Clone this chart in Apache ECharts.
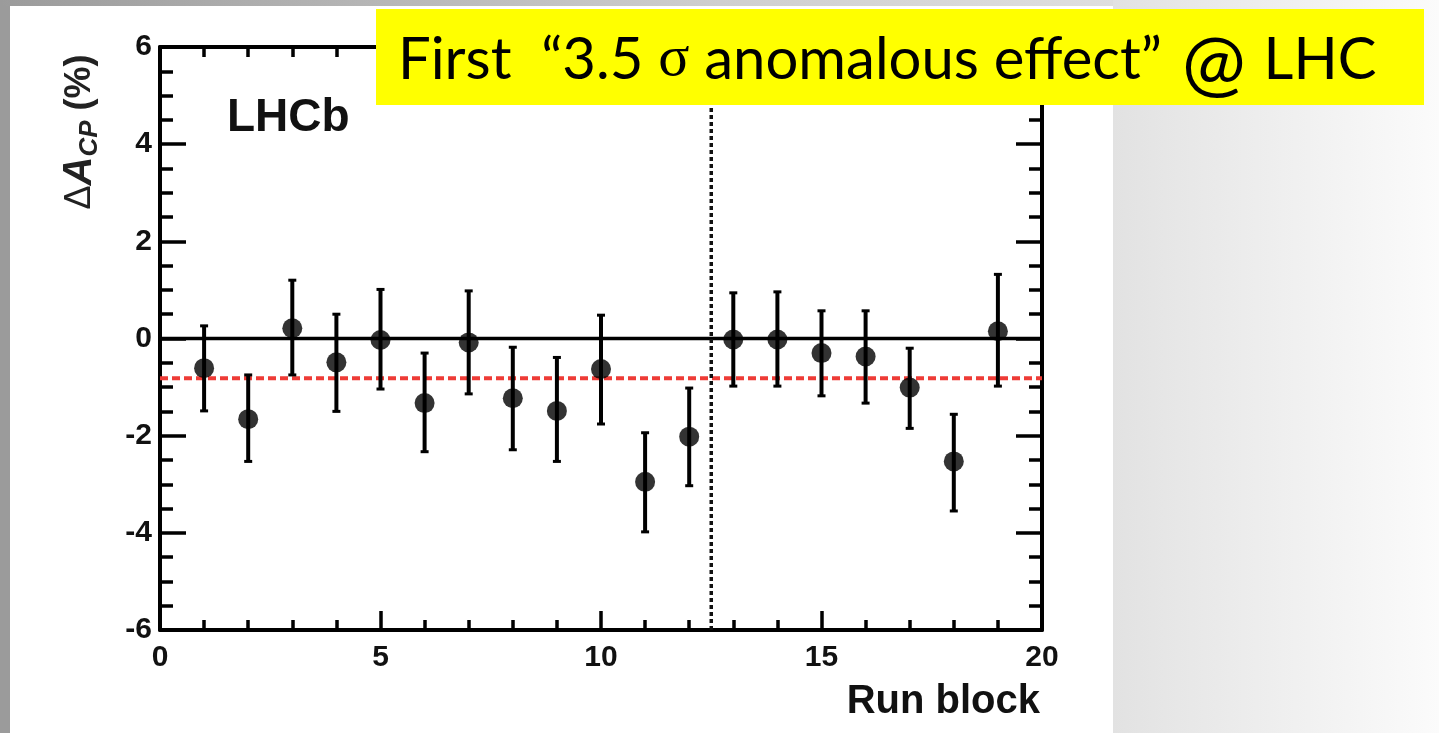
<!DOCTYPE html>
<html>
<head>
<meta charset="utf-8">
<script src="https://cdn.jsdelivr.net/npm/echarts@6/dist/echarts.min.js"></script>
<style>
html,body{margin:0;padding:0;background:#ffffff;}
#chart{width:1439px;height:733px;}
</style>
</head>
<body>
<div id="chart"></div>
<script>
// ---- data ----
const runBlock = [1,2,3,4,5,6,7,8,9,10,11,12,13,14,15,16,17,18,19];
const deltaAcp = [-0.61,-1.66,0.21,-0.49,-0.03,-1.33,-0.08,-1.23,-1.49,-0.63,-2.95,-2.02,-0.02,-0.02,-0.30,-0.37,-1.01,-2.53,0.15];
const errHigh  = [0.26,-0.75,1.20,0.50,1.01,-0.30,0.98,-0.18,-0.39,0.48,-1.94,-1.02,0.94,0.96,0.57,0.57,-0.20,-1.56,1.32];
const errLow   = [-1.49,-2.53,-0.75,-1.50,-1.04,-2.33,-1.14,-2.29,-2.53,-1.76,-3.98,-3.03,-0.98,-0.98,-1.18,-1.33,-1.85,-3.55,-0.98];
const zeroLevel = 0;
const averageLevel = -0.82;
const splitBlock = 12.5;
const xTickLabels = [0,5,10,15,20];
const yTickLabels = [-6,-4,-2,0,2,4,6];

const chart = echarts.init(document.getElementById('chart'), null, {renderer:'canvas'});

const labelFont = {fontFamily:'Liberation Sans, Arial, sans-serif', fontWeight:'bold', fontSize:30, color:'#111'};
function axisBase(extra){
  return Object.assign({
    type:'value',
    axisLine:{show:true, onZero:false, lineStyle:{color:'#000', width:4}},
    splitLine:{show:false},
  }, extra);
}

const option = {
  backgroundColor:'#ffffff',
  animation:false,
  grid:{left:160, right:397, top:47, bottom:103, containLabel:false},
  xAxis:[
    axisBase({position:'bottom', min:xTickLabels[0], max:xTickLabels[xTickLabels.length-1], interval:5,
      axisTick:{show:true, inside:true, length:19, lineStyle:{color:'#000', width:3.5}},
      minorTick:{show:true, splitNumber:5, length:10, lineStyle:{color:'#000', width:3.5}},
      axisLabel:Object.assign({show:true, margin:13}, labelFont)}),
    axisBase({position:'top', min:xTickLabels[0], max:xTickLabels[xTickLabels.length-1], interval:5,
      axisTick:{show:true, inside:true, length:19, lineStyle:{color:'#000', width:3.5}},
      minorTick:{show:true, splitNumber:5, length:10, lineStyle:{color:'#000', width:3.5}},
      axisLabel:{show:false}})
  ],
  yAxis:[
    axisBase({position:'left', min:yTickLabels[0], max:yTickLabels[yTickLabels.length-1], interval:2,
      axisTick:{show:true, inside:true, length:26, lineStyle:{color:'#000', width:3.5}},
      minorTick:{show:true, splitNumber:4, length:13, lineStyle:{color:'#000', width:3.5}},
      axisLabel:Object.assign({show:true, margin:8}, labelFont)}),
    axisBase({position:'right', min:yTickLabels[0], max:yTickLabels[yTickLabels.length-1], interval:2,
      axisTick:{show:true, inside:true, length:26, lineStyle:{color:'#000', width:3.5}},
      minorTick:{show:true, splitNumber:4, length:13, lineStyle:{color:'#000', width:3.5}},
      axisLabel:{show:false}})
  ],
  graphic:[
    // slide background pieces
    {type:'rect', z:-100, shape:{x:0,y:0,width:1439,height:733}, style:{fill:'#ffffff'}},
    {type:'rect', z:-99, shape:{x:0,y:0,width:10,height:733}, style:{fill:'#9b9b9b'}},
    {type:'rect', z:-99, shape:{x:0,y:0,width:1439,height:6}, style:{fill:new echarts.graphic.LinearGradient(0,0,1,0,[{offset:0,color:'#9b9b9b'},{offset:0.5,color:'#cfcfcf'},{offset:1,color:'#ececec'}])}},
    {type:'rect', z:-99, shape:{x:1113,y:0,width:326,height:733}, style:{fill:new echarts.graphic.LinearGradient(0,0,1,0,[{offset:0,color:'#e2e2e2'},{offset:1,color:'#fbfbfb'}])}},
    // LHCb label
    {type:'text', z:50, style:{x:227, y:118, text:'LHCb', fill:'#111', font:'bold 46px "Liberation Sans", Arial, sans-serif', textAlign:'left', textVerticalAlign:'middle'}},
    // x axis title
    {type:'text', z:50, style:{x:1040, y:702, text:'Run block', fill:'#111', font:'bold 40px "Liberation Sans", Arial, sans-serif', textAlign:'right', textVerticalAlign:'middle'}},
    // y axis title (rotated)
    {type:'text', z:50, x:80, y:132, rotation:Math.PI/2,
      style:{text:'{d|Δ}{a|A}{s|CP}{b| (%)}', textAlign:'center', textVerticalAlign:'middle', fill:'#222',
        rich:{
          d:{font:'36px "Liberation Sans", Arial, sans-serif', fill:'#222'},
          a:{font:'italic bold 40px "Liberation Sans", Arial, sans-serif', fill:'#222'},
          s:{font:'italic bold 26px "Liberation Sans", Arial, sans-serif', fill:'#222', padding:[20,0,0,0]},
          b:{font:'bold 36px "Liberation Sans", Arial, sans-serif', fill:'#222'}
        }}},
    // yellow banner
    {type:'rect', z:90, shape:{x:376,y:9,width:1048,height:96}, style:{fill:'#ffff00'}},
    {type:'text', z:91, style:{x:398, y:60, text:'{t|First  “3.5 }{g|σ}{t| anomalous effect”}{at|@}{t|LHC}', textAlign:'left', textVerticalAlign:'middle',
      rich:{
        t:{font:'58px Lato, "Open Sans", sans-serif', fill:'#000'},
        g:{font:'58px "Liberation Serif", "DejaVu Serif", serif', fill:'#000'},
        at:{font:'76px Lato, "Open Sans", sans-serif', fill:'#000', padding:[8,18,0,20]}
      }}}
  ],
  series:[
    {type:'line', name:'zero', xAxisIndex:0, yAxisIndex:0, symbol:'none', silent:true, z:3,
      data:[[xTickLabels[0],zeroLevel],[xTickLabels[xTickLabels.length-1],zeroLevel]],
      lineStyle:{color:'#000', width:3.5}},
    {type:'line', name:'average', symbol:'none', silent:true, z:3,
      data:[[xTickLabels[0],averageLevel],[xTickLabels[xTickLabels.length-1],averageLevel]],
      lineStyle:{color:'#ee3b36', width:4, type:[8,4]}},
    {type:'line', name:'split', symbol:'none', silent:true, z:3,
      data:[[splitBlock,yTickLabels[0]],[splitBlock,yTickLabels[yTickLabels.length-1]]],
      lineStyle:{color:'#111', width:3.5, type:[4,3]}},
    {type:'custom', name:'errors', z:4,
      data: runBlock.map((x,i)=>[x, errLow[i], errHigh[i]]),
      renderItem:function(params, api){
        const x = api.value(0);
        const lo = api.coord([x, api.value(1)]);
        const hi = api.coord([x, api.value(2)]);
        const cw = 4;
        const st = {stroke:'#000', lineWidth:4};
        return {type:'group', children:[
          {type:'line', shape:{x1:lo[0],y1:lo[1],x2:hi[0],y2:hi[1]}, style:st},
          {type:'line', shape:{x1:hi[0]-cw,y1:hi[1],x2:hi[0]+cw,y2:hi[1]}, style:{stroke:'#000', lineWidth:3}},
          {type:'line', shape:{x1:lo[0]-cw,y1:lo[1],x2:lo[0]+cw,y2:lo[1]}, style:{stroke:'#000', lineWidth:3}}
        ]};
      }},
    {type:'scatter', name:'ΔA_CP', z:5, symbol:'circle', symbolSize:20,
      itemStyle:{color:'#000'},
      data: runBlock.map((x,i)=>[x, deltaAcp[i]])}
  ]
};
chart.setOption(option);
</script>
</body>
</html>
